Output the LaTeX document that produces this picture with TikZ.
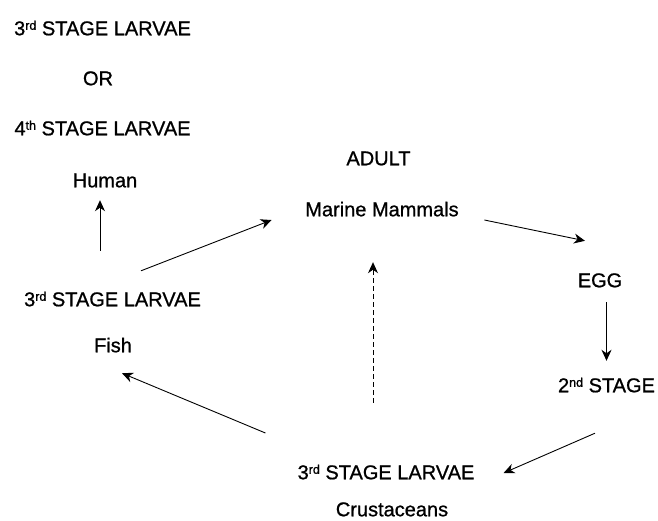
\documentclass[tikz,border=0pt]{standalone}
\usepackage{fontspec}
\setmainfont{Liberation Sans}[UprightFeatures={FakeBold=0.9}]
\usepackage{tikz}
\usetikzlibrary{arrows.meta, calc}

% raised ordinal ending
\newcommand{\ordsup}[1]{\raisebox{5.5pt}{\fontsize{12.5}{12.5}\selectfont #1}}

\begin{document}
\begin{tikzpicture}[x=1pt, y=-1pt,
  lbl/.style={inner sep=0pt, text height=14.5pt, text depth=0pt,
              font=\fontsize{20}{24}\selectfont},
  arr/.style={line width=0.9pt, -{Stealth[length=11pt, width=10pt, inset=3.5pt]}}]
\useasboundingbox (0,0) rectangle (658,520);

% human side
\node[lbl] (top3) at (102.5, 28) {3\ordsup{rd} STAGE LARVAE};
\node[lbl] (or)   at (98, 78)    {OR};
\node[lbl] (top4) at (102.5,128) {4\ordsup{th} STAGE LARVAE};
\node[lbl] (human) at (105,180)  {Human};

% fish host
\node[lbl] (fish3) at (112.5,299) {3\ordsup{rd} STAGE LARVAE};
\node[lbl] (fish)  at (113,345)   {Fish};

% final host
\node[lbl] (adult)  at (378.5,158) {ADULT};
\node[lbl] (marine) at (382,209)   {Marine Mammals};

% free stages
\node[lbl] (egg)    at (600,280)   {EGG};
\node[lbl] (stage2) at (606.5,385) {2\ordsup{nd} STAGE};

% first host
\node[lbl] (crust3) at (386,472) {3\ordsup{rd} STAGE LARVAE};
\node[lbl] (crust)  at (392,509) {Crustaceans};

% cycle
\draw[arr] ($(fish3.north)+(-12.5,-40.75)$) -- ($(human.south)+(-5,12.75)$);
\draw[arr] ($(fish3.north)+(28.5,-20.75)$) -- ($(marine.west)+(-33.5,11)$);
\draw[arr] ($(marine.east)+(25.5,11)$) -- ($(egg.north)+(-15,-31.75)$);
\draw[arr] ($(egg.south)+(6.5,14.75)$) -- ($(stage2.north)+(0,-16.75)$);
\draw[arr] ($(stage2.south)+(-11.5,40.75)$) -- ($(crust3.east)+(29,1)$);
\draw[arr] ($(crust3.west)+(-32,-39)$) -- ($(fish.south)+(9,20.75)$);
\draw[arr, dash pattern=on 5pt off 3pt]
  ($(crust3.north)+(-13,-61.75)$) -- ($(marine.south)+(-9,45.75)$);
\end{tikzpicture}
\end{document}
